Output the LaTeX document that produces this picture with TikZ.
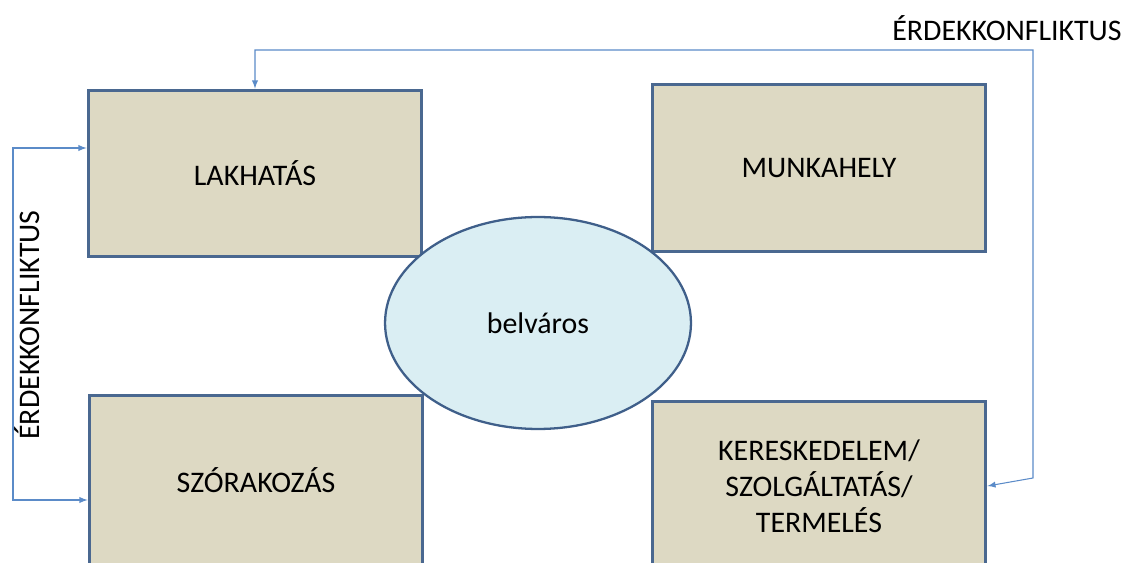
\documentclass[tikz,border=0pt]{standalone}
\usepackage{fontspec}
\setmainfont{Carlito}
\usetikzlibrary{shapes.geometric}
\definecolor{boxfill}{HTML}{DDD9C3}
\definecolor{boxline}{HTML}{4A6890}
\definecolor{ovalfill}{HTML}{DAEEF3}
\definecolor{ovalline}{HTML}{3F5F8A}
\definecolor{arrowblue}{HTML}{5B8BC8}

\begin{document}
\begin{tikzpicture}[x=0.02cm,y=-0.02cm,font=\fontsize{17}{20.5}\selectfont]
    \tikzstyle{area node}=[rectangle,draw=boxline,line width=1.7pt,fill=boxfill,minimum width=6.68cm,minimum height=3.34cm,align=center,inner sep=0]
    \tikzstyle{centre node}=[ellipse,draw=ovalline,line width=1.3pt,fill=ovalfill,minimum width=6.12cm,minimum height=4.24cm,inner sep=0]
    \tikzstyle{conflict}=[<->,>=latex,color=arrowblue,line width=0.6pt]

    \clip (0,0) rectangle (1138,563);

    \node(lak)[area node] at (255,173.5){LAKHATÁS};
    \node(mun)[area node] at (819,168){MUNKAHELY};
    \node(szo)[area node,minimum height=3.4cm] at (256,480){SZÓRAKOZÁS};
    \node(ker)[area node,minimum height=3.4cm] at (819,486){KERESKEDELEM/\\SZOLGÁLTATÁS/\\TERMELÉS};
    \node(bel)[centre node] at (538,323){belváros};

    \coordinate(t1) at (1033,50);
    \coordinate(t2) at (1033,478);
    \coordinate(l1) at (13,148);
    \coordinate(l2) at (13,500);

    \draw[conflict](lak.north) |- (t1) -- (t2) -- (ker.east);
    \draw[conflict](l1 -| lak.west) -- (l1) -- (l2) -- (l2 -| szo.west);

    \node(toplabel) at (1007,28){ÉRDEKKONFLIKTUS};
    \node(sidelabel)[rotate=90] at (27,325){ÉRDEKKONFLIKTUS};
\end{tikzpicture}
\end{document}
